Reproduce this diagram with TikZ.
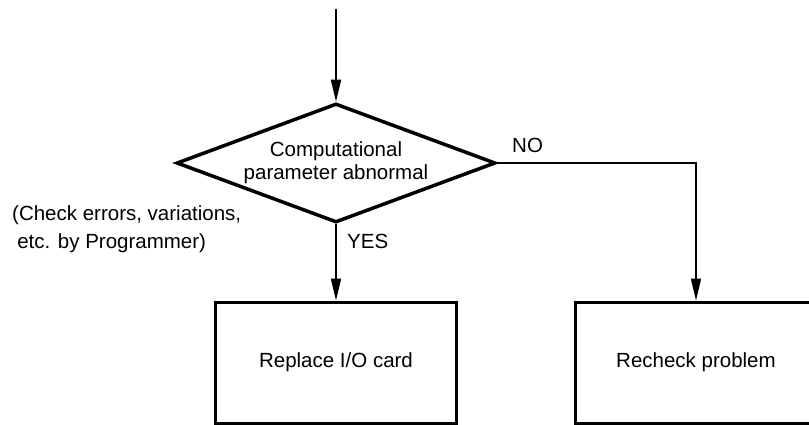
\documentclass[tikz,border=0pt]{standalone}
\usepackage{fontspec}
\setmainfont{Liberation Sans}
\usetikzlibrary{shapes.geometric,arrows.meta,positioning}

\begin{document}
\begin{tikzpicture}[x=1pt,y=-1pt,
  decision/.style={draw,line width=3.5pt,shape=diamond,aspect=2.68,inner sep=0pt,
    minimum width=319pt,minimum height=119pt,align=center,
    font=\fontsize{20.5}{23}\selectfont},
  action/.style={draw,line width=3pt,minimum width=241pt,minimum height=121pt,
    inner sep=0pt,font=\fontsize{20.5}{24}\selectfont},
  flow/.style={line width=1.8pt,-{Triangle[length=22pt,width=10pt]}},
  tag/.style={inner sep=0pt,font=\fontsize{20.5}{24}\selectfont}]
           \useasboundingbox (0,0) rectangle (809,425);
           \clip (0,0) rectangle (809,425);
           \node[decision] (ask) at (336,163) {Computational\\parameter abnormal};
           \node[action] (replace) at (336,362.5) {Replace I/O card};
           \node[action] (recheck) at (696,362.5) {Recheck problem};
           \coordinate (entry) at (336,9);
           \node[tag,anchor=north west,align=left,font=\fontsize{20.5}{28}\selectfont] (note)
             at (12,205) {(Check errors, variations,\\\hspace{0.25em}etc. by Programmer)};
           \node[tag,anchor=base west] (yes) at (347,248) {YES};
           \node[tag,anchor=base west] (no) at (512,153) {NO};
           \draw[flow] (entry) -- (ask.north);
           \draw[flow] (ask.south) -- (replace.north);
           \draw[flow,line width=1.5pt] (ask.east) -| (recheck.north);
         \end{tikzpicture}
\end{document}
